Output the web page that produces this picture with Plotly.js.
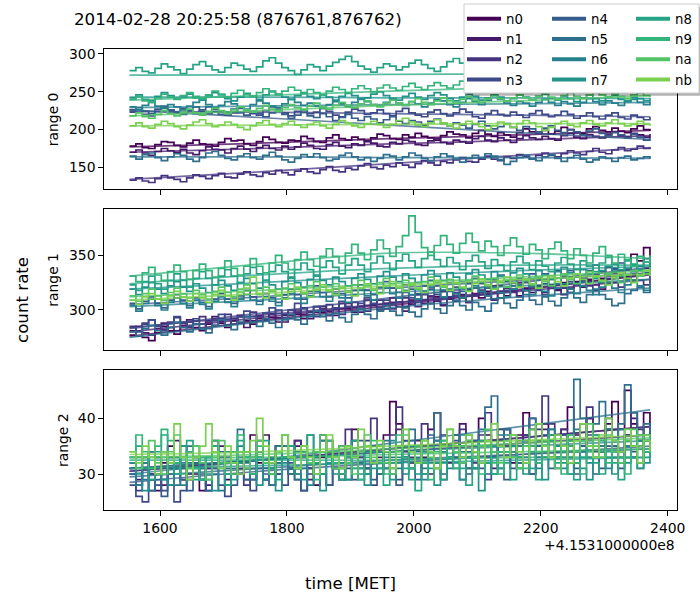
<!DOCTYPE html>
<html><head><meta charset="utf-8">
<script src="https://cdn.plot.ly/plotly-3.0.1.min.js"></script>
<style>html,body{margin:0;padding:0;background:#fff}#chart{width:700px;height:600px}</style>
</head><body><div id="chart"></div>
<script>
// ---------- data ----------
const detectors = ['n0','n1','n2','n3','n4','n5','n6','n7','n8','n9','na','nb'];
const colors = ['#440154','#46186a','#453380','#3e4989','#365c8c','#2e6f8e','#27808e','#22928b','#24a485','#33b47b','#53c368','#7bd050'];
const titleText = '2014-02-28 20:25:58 (876761,876762)';
const offsetText = '+4.1531000000e8';
const rangeLabels = ['range 0','range 1','range 2'];
const xTicks = [1600,1800,2000,2200,2400];
const yTicks0 = [150,200,250,300];
const yTicks1 = [300,350];
const yTicks2 = [30,40];
// time bins (seconds relative to 4.1531e8 MET), 10 s bins
const binStart = 1552, binWidth = 10, nBins = 83;
const times = []; for (let i = 0; i < nBins; i++) times.push(binStart + binWidth * i);
const fitTimes = [1552,1757,1962,2167,2372];

// range 0
const r0_n0 = [178,181,176,175,180,184,183,179,177,182,186,181,180,178,183,188,185,186,181,179,184,190,187,183,182,186,185,191,188,184,183,189,193,188,186,190,187,184,189,194,192,188,187,193,190,195,191,189,186,192,197,194,193,189,195,199,194,191,196,193,190,196,201,197,195,199,194,198,203,200,196,195,201,204,199,197,202,198,196,201,205,200,198];
const r0_n1 = [170,173,169,166,171,175,172,170,174,169,167,172,177,174,173,169,175,178,174,171,176,179,175,173,178,174,177,182,179,175,174,180,183,178,176,181,179,185,182,178,177,183,181,186,184,180,179,185,188,183,181,186,184,182,188,191,186,184,189,186,183,188,192,189,187,191,188,186,192,195,190,188,193,191,189,194,197,192,190,195,193,190,194];
const r0_n2 = [133,136,132,130,135,139,136,134,131,136,140,138,135,139,142,137,136,141,144,140,138,143,141,146,143,140,145,148,144,142,147,151,146,144,149,147,152,155,150,148,153,151,156,153,150,155,159,156,153,158,156,160,163,158,157,161,165,161,159,164,162,167,164,161,166,169,166,164,168,172,169,167,171,175,170,168,173,176,172,174,178,175,177];
const r0_n3 = [223,226,220,218,224,229,225,222,220,226,230,224,221,227,223,219,222,228,226,221,219,225,230,227,222,218,224,226,221,223,228,224,219,217,223,227,225,220,222,226,221,218,224,228,222,219,217,223,226,221,218,222,227,223,217,215,221,225,220,218,223,219,216,221,225,220,217,219,224,220,215,218,222,217,214,219,222,216,214,219,216,213,217];
const r0_n4 = [226,229,224,221,227,231,226,223,228,225,221,226,230,224,220,223,227,222,219,224,221,217,222,226,220,215,219,223,218,216,221,217,212,216,220,215,212,217,214,209,213,217,211,208,212,210,206,211,214,208,205,209,206,202,207,211,205,201,204,208,203,199,204,201,197,202,205,199,196,200,197,193,198,201,195,192,196,193,189,194,190,186,189];
const r0_n5 = [165,161,167,169,163,159,164,168,166,161,158,163,169,171,166,162,160,165,168,163,161,166,170,165,160,157,162,167,164,168,163,159,161,166,169,164,160,163,158,162,167,165,160,164,169,166,162,159,164,168,165,161,157,162,166,163,168,165,160,154,158,163,166,161,159,164,167,162,158,163,166,161,157,160,164,162,158,163,165,160,162,164,161];
const r0_n6 = [230,226,232,236,231,228,233,230,226,231,236,239,233,229,232,237,234,229,227,233,238,235,231,229,234,240,236,232,235,231,228,233,237,234,230,236,241,237,233,231,236,240,235,232,237,234,230,235,240,238,233,230,236,241,237,233,239,245,240,235,232,237,235,231,236,240,236,232,237,234,231,236,241,237,233,238,235,232,237,240,236,233,237];
const r0_n7 = [242,246,240,238,244,249,245,241,243,247,242,239,245,249,246,241,238,243,248,244,240,246,251,247,243,240,245,249,244,241,246,243,239,244,248,245,240,242,247,250,245,241,239,244,248,243,240,245,249,246,241,238,243,247,244,239,242,246,243,238,241,246,243,239,244,247,242,239,244,241,237,242,246,241,238,243,245,240,238,243,241,238,242];
const r0_n8 = [278,282,277,275,281,287,283,279,274,280,286,290,284,279,276,282,288,285,280,277,283,291,295,288,282,278,273,279,286,283,278,284,289,293,297,290,284,280,276,282,287,284,279,283,288,292,286,281,277,283,290,294,288,283,280,285,291,287,282,278,284,290,286,281,285,292,288,283,279,285,290,286,282,278,284,289,285,281,286,290,285,282,284];
const r0_n9 = [240,244,238,236,242,247,243,240,245,249,244,241,246,251,247,243,248,252,247,244,249,254,250,246,251,256,252,248,253,249,246,251,256,253,249,254,258,254,250,255,259,255,252,257,261,256,253,258,262,258,255,259,264,260,256,261,265,261,257,262,266,262,258,263,267,263,260,265,269,264,261,266,270,266,262,267,264,260,265,268,264,261,263];
const r0_na = [218,222,217,215,220,225,221,218,223,227,222,219,224,228,225,221,226,230,226,223,228,232,227,224,229,233,229,226,231,235,230,227,232,236,232,229,234,238,233,230,235,239,235,232,237,241,236,233,238,242,238,235,240,244,239,236,241,245,241,238,242,246,242,239,244,248,243,240,245,249,244,241,246,250,246,243,247,244,241,246,249,245,243];
const r0_nb = [205,209,204,202,207,211,208,204,201,206,210,213,208,204,206,210,207,203,200,205,209,212,207,204,208,211,206,203,207,210,205,202,207,212,209,205,203,208,211,207,203,207,212,215,210,206,204,209,213,209,205,202,207,211,208,204,200,205,210,207,203,208,212,209,204,199,203,208,211,206,204,209,212,207,205,209,213,208,205,207,211,207,205];

// range 1
const r1_n0 = [277,281,275,272,279,285,281,278,284,289,284,281,287,292,288,284,290,295,290,287,292,297,293,289,295,300,296,292,298,303,298,295,301,306,301,298,303,309,304,300,306,311,307,303,309,314,309,306,312,317,312,308,314,319,315,311,317,322,317,313,319,325,320,316,322,327,323,319,325,330,326,322,328,333,329,339,334,331,337,351,345,357,341];
const r1_n1 = [281,285,279,277,283,288,284,281,286,291,287,283,289,294,290,286,292,288,284,290,295,291,297,293,289,295,300,296,292,298,303,299,295,301,306,302,298,304,309,305,301,307,303,299,305,310,306,312,308,304,310,315,311,307,313,318,314,310,316,321,317,313,319,324,320,316,322,318,314,320,325,321,327,323,319,325,330,336,331,327,333,338,334];
const r1_n2 = [285,281,288,291,286,282,289,293,288,284,290,294,290,286,292,296,292,288,294,298,294,290,296,300,296,292,298,302,298,294,301,305,300,296,303,307,303,299,305,309,305,301,307,311,307,303,309,313,309,305,312,316,311,307,314,318,313,309,316,320,316,312,318,322,318,314,320,324,320,316,323,327,322,318,325,329,325,321,328,332,327,323,331];
const r1_n3 = [284,280,287,291,285,281,288,294,289,285,292,287,283,290,296,291,287,294,299,294,290,297,302,297,293,300,306,301,296,303,299,295,302,308,303,299,306,311,306,302,309,305,311,316,311,307,314,319,314,310,317,313,320,325,320,316,323,328,322,318,325,321,328,333,328,324,331,336,330,326,333,329,336,341,335,331,338,343,337,333,340,347,339];
const r1_n4 = [306,301,308,312,306,302,309,314,309,304,311,307,303,310,315,310,306,313,318,312,308,315,311,307,314,319,314,310,317,322,316,312,319,315,311,318,323,318,314,321,326,320,316,323,319,315,322,327,322,318,325,321,317,324,329,324,320,327,332,326,322,329,325,321,328,333,328,324,331,336,330,326,333,329,325,332,337,332,328,335,340,334,331];
const r1_n5 = [280,276,283,286,281,277,284,289,284,280,287,283,279,286,291,286,282,289,294,289,285,292,288,284,291,296,291,287,294,299,294,290,297,293,289,296,301,296,292,299,304,299,295,302,298,294,301,306,301,297,304,309,304,300,307,303,299,306,311,306,302,309,314,309,305,312,308,304,311,316,311,307,314,319,314,310,304,306,315,318,321,316,322];
const r1_n6 = [304,299,306,310,304,300,307,311,306,302,309,305,301,308,312,307,303,310,314,309,305,312,308,304,311,315,310,306,313,317,312,308,315,311,307,314,318,313,309,316,320,315,311,318,314,310,317,321,316,312,319,315,311,318,322,317,313,320,316,312,319,323,318,314,321,317,313,320,324,319,315,322,318,314,321,325,320,316,323,327,322,318,325];
const r1_n7 = [319,314,321,325,319,315,322,326,321,317,324,320,316,323,327,322,318,325,329,324,320,327,323,319,326,330,325,321,328,332,327,323,330,326,322,329,333,328,324,331,335,330,326,333,329,325,332,336,331,327,334,330,326,333,337,332,328,335,331,327,334,338,333,329,336,332,328,335,339,334,330,337,333,329,336,340,335,331,338,342,337,333,340];
const r1_n8 = [323,318,326,331,324,319,327,333,327,321,329,335,329,323,331,337,331,325,333,339,333,327,335,341,335,329,337,343,337,331,339,345,339,333,341,347,341,335,343,349,343,337,345,351,345,339,347,353,346,340,348,343,337,345,350,344,338,346,341,336,344,349,343,337,345,340,335,343,348,342,337,345,340,335,343,348,342,337,345,341,336,344,340];
const r1_n9 = [331,326,334,339,332,327,335,341,335,328,336,342,336,330,338,345,338,332,340,347,340,334,343,350,343,337,346,353,346,340,349,356,349,343,352,360,352,346,355,364,356,349,358,368,386,371,357,350,359,368,360,352,361,370,362,354,363,358,350,359,366,358,351,360,355,347,356,362,354,347,356,350,343,352,358,350,343,351,346,340,349,344,350];
const r1_na = [313,308,315,319,313,309,316,320,315,311,318,314,310,317,321,316,312,319,323,318,314,321,317,313,320,324,319,315,322,326,321,317,324,320,316,323,327,322,318,325,329,324,320,327,323,319,326,330,325,321,328,324,320,327,331,326,322,329,325,321,328,332,327,323,330,326,322,329,333,328,324,331,335,330,326,333,329,325,332,336,331,336,339];
const r1_nb = [309,305,312,315,310,306,313,317,312,308,315,311,307,314,318,313,309,316,320,330,315,311,318,314,310,317,321,316,312,319,323,318,314,321,317,313,320,324,319,315,322,326,321,317,324,320,316,323,327,322,318,325,321,317,324,328,323,319,326,330,325,321,328,324,320,327,331,326,322,329,333,328,324,331,327,323,330,334,329,325,332,336,331];

// range 2
const r2_n0 = [31,28,33,30,27,32,35,31,29,34,30,27,31,36,33,29,32,30,34,37,32,29,31,35,33,30,36,34,31,28,33,36,32,30,35,38,33,31,34,30,37,43,39,34,32,36,33,38,41,35,33,37,35,31,36,40,37,34,38,35,32,37,41,38,35,39,36,33,38,42,37,35,40,37,34,39,43,38,45,39,36,41,38];
const r2_n1 = [32,29,31,34,30,28,33,36,31,29,33,31,28,32,35,33,30,34,31,29,34,37,32,30,33,31,35,33,29,32,36,34,31,29,33,36,32,30,35,33,31,34,38,33,31,35,32,30,36,34,32,35,39,34,31,36,33,31,35,38,34,32,37,35,33,38,36,33,37,35,32,36,40,37,34,38,35,33,37,40,36,34,37];
const r2_n2 = [30,27,32,29,33,31,28,32,35,30,33,29,31,35,32,30,34,31,28,33,36,32,30,35,33,31,36,34,30,33,37,34,31,35,38,33,31,36,40,34,32,37,42,36,33,35,39,34,32,37,35,33,38,36,32,37,41,36,34,38,35,33,37,40,38,44,39,35,38,36,34,39,42,37,35,40,38,34,37,41,38,36,39];
const r2_n3 = [28,26,25,30,28,27,31,25,27,30,32,29,27,31,28,26,30,33,29,27,31,29,33,30,28,32,30,27,31,34,30,28,32,35,31,29,33,31,28,32,34,31,29,33,36,32,30,34,31,29,33,36,32,30,34,31,29,33,36,34,31,35,33,30,34,37,33,31,35,32,30,34,37,34,31,35,33,31,36,34,32,36,34];
const r2_n4 = [30,28,31,27,29,26,31,33,29,27,32,30,27,31,34,30,28,32,29,31,34,30,28,32,35,31,29,27,32,34,30,28,33,31,29,33,36,31,29,32,34,30,28,33,31,29,34,37,32,30,33,31,29,34,36,32,30,33,31,29,34,36,32,30,35,33,31,34,37,33,31,35,33,30,34,38,34,32,35,33,31,36,34];
const r2_n5 = [30,33,29,27,31,34,30,28,32,35,31,29,33,30,27,31,34,38,32,29,33,31,28,32,35,31,29,33,37,33,30,34,31,29,33,36,32,30,34,31,36,33,31,35,38,34,31,35,41,36,33,37,34,31,35,38,42,44,37,38,35,32,36,40,36,34,38,35,33,37,47,40,36,39,43,38,35,39,46,41,35,39,37];
const r2_n6 = [31,28,32,34,30,29,33,31,28,32,35,31,29,34,32,28,31,35,33,30,33,29,31,35,32,30,34,31,28,33,36,33,30,32,35,31,29,34,32,30,33,36,32,30,35,33,29,32,36,34,31,34,37,33,31,35,32,30,34,37,33,31,36,34,31,35,38,33,31,36,38,34,32,37,35,31,34,38,35,33,37,34,36];
const r2_n7 = [32,30,27,31,33,29,28,32,35,31,29,33,30,27,31,34,29,32,34,30,28,32,31,27,33,35,30,29,32,30,27,32,34,31,29,33,30,28,31,34,31,29,33,35,31,30,34,31,28,32,35,32,29,33,31,27,32,35,31,33,35,31,30,34,32,29,33,35,32,30,34,31,29,33,36,33,30,34,32,33,36,32,34];
const r2_n8 = [33,35,31,29,34,37,32,30,33,36,31,29,33,35,32,28,32,36,33,30,34,36,31,29,33,35,31,34,37,32,30,34,32,29,33,36,31,30,34,31,28,32,35,31,29,27,30,34,32,29,33,35,31,28,33,36,32,30,34,32,29,33,35,31,29,33,36,32,34,30,29,33,35,32,30,34,32,29,33,35,31,34,33];
const r2_n9 = [33,37,34,31,35,38,36,32,30,34,31,29,33,36,32,30,34,37,33,30,35,32,30,34,37,33,31,35,32,29,34,36,32,30,34,31,29,33,36,32,30,34,37,33,31,35,32,29,34,36,33,31,35,37,33,30,35,32,30,34,37,33,31,35,32,34,37,33,30,35,32,30,34,37,34,32,36,33,30,35,37,34,36];
const r2_na = [34,31,33,36,32,30,34,37,33,31,35,32,29,33,36,32,30,34,31,33,36,32,30,34,37,33,31,35,32,34,37,33,31,35,32,30,34,37,33,35,32,30,34,37,34,32,36,33,31,35,38,34,32,36,33,35,38,34,32,36,33,31,35,38,34,36,33,31,35,37,34,36,39,35,33,37,34,32,36,38,35,37,36];
const r2_nb = [34,32,35,33,30,34,32,39,33,29,33,35,39,34,31,35,32,30,34,36,40,35,32,34,37,33,31,35,33,30,34,37,33,31,35,33,38,35,32,36,34,31,35,38,34,32,36,34,31,35,38,35,33,37,34,32,36,39,35,33,37,34,32,36,39,35,33,37,35,32,36,39,35,33,37,40,36,34,38,35,32,36,34];

// background fits (values at fitTimes)
const f0_n0 = [177,182,188,193,199], f0_n1 = [170,175,181,186,192], f0_n2 = [134,144,155,166,176], f0_n3 = [224,223,221,219,217];
const f0_n4 = [226,216,206,196,187], f0_n5 = [164,164,163,163,162], f0_n6 = [229,231,233,234,236], f0_n7 = [243,243,242,242,241];
const f0_n8 = [272,272.5,273,273.5,274], f0_n9 = [239,245,251,256,262], f0_na = [218,225,232,238,245], f0_nb = [205,206,207,208,208];
const f1_n0 = [276,290,304,318,333], f1_n1 = [280,293,306,319,332], f1_n2 = [284,295,306,317,328], f1_n3 = [283,297,311,325,339];
const f1_n4 = [305,312,320,327,334], f1_n5 = [275,289,302,312,320], f1_n6 = [303,309,316,322,328], f1_n7 = [319,325,331,336,340];
const f1_n8 = [324,332,338,341,341], f1_n9 = [331,342,352,352,347], f1_na = [312,318,324,330,336], f1_nb = [309,315,322,328,333];
const f2_n0 = [30.5,32.5,34.5,36.5,38.5], f2_n1 = [31,32.5,34,35.5,37], f2_n2 = [30.5,32.5,34.5,36.5,38.5], f2_n3 = [28.5,30.5,32,33.5,35];
const f2_n4 = [29.5,31,32.5,33.5,34.5], f2_n5 = [30,32.5,35.5,38.5,41.5], f2_n6 = [31,32.5,34,35,36], f2_n7 = [31,31.5,32,32.5,33];
const f2_n8 = [32.5,32.5,32.5,33,33], f2_n9 = [33,33,33.5,34,34.5], f2_na = [33,33.5,34.5,35.5,36.5], f2_nb = [33.5,34,35,36,37];

// ---------- build ----------
const panels = [
  {xa:'x',  ya:'y',  data:[r0_n0,r0_n1,r0_n2,r0_n3,r0_n4,r0_n5,r0_n6,r0_n7,r0_n8,r0_n9,r0_na,r0_nb], fits:[f0_n0,f0_n1,f0_n2,f0_n3,f0_n4,f0_n5,f0_n6,f0_n7,f0_n8,f0_n9,f0_na,f0_nb]},
  {xa:'x2', ya:'y2', data:[r1_n0,r1_n1,r1_n2,r1_n3,r1_n4,r1_n5,r1_n6,r1_n7,r1_n8,r1_n9,r1_na,r1_nb], fits:[f1_n0,f1_n1,f1_n2,f1_n3,f1_n4,f1_n5,f1_n6,f1_n7,f1_n8,f1_n9,f1_na,f1_nb]},
  {xa:'x3', ya:'y3', data:[r2_n0,r2_n1,r2_n2,r2_n3,r2_n4,r2_n5,r2_n6,r2_n7,r2_n8,r2_n9,r2_na,r2_nb], fits:[f2_n0,f2_n1,f2_n2,f2_n3,f2_n4,f2_n5,f2_n6,f2_n7,f2_n8,f2_n9,f2_na,f2_nb]}
];
const traces = [];
panels.forEach(p => {
  detectors.forEach((d, k) => {
    traces.push({x: times, y: p.data[k], xaxis: p.xa, yaxis: p.ya, type: 'scatter', mode: 'lines',
      line: {shape: 'hv', color: colors[k], width: 1.7}, showlegend: false, hoverinfo: 'skip'});
    traces.push({x: fitTimes, y: p.fits[k], xaxis: p.xa, yaxis: p.ya, type: 'scatter', mode: 'lines',
      line: {shape: 'spline', color: colors[k], width: 1.7}, opacity: 0.75, showlegend: false, hoverinfo: 'skip'});
  });
});
const legendIds = ['legend','legend2','legend3'];
detectors.forEach((d, k) => {
  traces.push({x: [null], y: [null], xaxis: 'x', yaxis: 'y', type: 'scatter', mode: 'lines', name: d,
    line: {color: colors[k], width: 4}, legend: legendIds[Math.floor(k / 4)], showlegend: true});
});

const FONT = 'DejaVu Sans, Liberation Sans, sans-serif';
const W = 700, H = 600;
const px = v => v / W, py = v => 1 - v / H;
const xDom = [px(104.3), px(677.3)];
const xRange = [1512.2, 2415.1];
function xax(showLabels) {
  return {domain: xDom, range: xRange, tickvals: xTicks, ticktext: xTicks.map(String), showticklabels: showLabels,
    ticks: 'outside', ticklen: 5, tickwidth: 1, tickcolor: '#000', showline: true, mirror: true, linecolor: '#000', linewidth: 1,
    showgrid: false, zeroline: false, automargin: false, tickfont: {family: FONT, size: 13.9, color: '#000'}};
}
function yax(dom, range, tv, anchor) {
  return {domain: dom, range: range, tickvals: tv, ticktext: tv.map(String), anchor: anchor,
    ticks: 'outside', ticklen: 5, tickwidth: 1, tickcolor: '#000', showline: true, mirror: true, linecolor: '#000', linewidth: 1,
    showgrid: false, zeroline: false, automargin: false, tickfont: {family: FONT, size: 13.9, color: '#000'}};
}
function legendDef(xPix) {
  return {x: px(xPix), y: py(3.5), xanchor: 'left', yanchor: 'top', bgcolor: 'rgba(0,0,0,0)', borderwidth: 0,
    font: {family: FONT, size: 13.3, color: '#000'}, itemwidth: 34, tracegroupgap: 0, orientation: 'v'};
}
const ann = (text, x, y, opts) => Object.assign({text: text, x: x, y: y, xref: 'paper', yref: 'paper', showarrow: false,
  font: {family: FONT, size: 13.9, color: '#000'}, xanchor: 'center', yanchor: 'middle'}, opts || {});

const layout = {
  width: W, height: H, margin: {l: 0, r: 0, t: 0, b: 0}, paper_bgcolor: '#fff', plot_bgcolor: '#fff', showlegend: true,
  xaxis: Object.assign(xax(false), {anchor: 'y'}),
  xaxis2: Object.assign(xax(false), {anchor: 'y2'}),
  xaxis3: Object.assign(xax(true), {anchor: 'y3'}),
  yaxis: yax([py(189), py(49.3)], [121.4, 306.2], yTicks0, 'x'),
  yaxis2: yax([py(350), py(209.3)], [263.4, 392.1], yTicks1, 'x2'),
  yaxis3: yax([py(510), py(370)], [23.54, 48.67], yTicks2, 'x3'),
  legend: legendDef(462), legend2: legendDef(547), legend3: legendDef(631),
  shapes: [
    {type: 'rect', xref: 'paper', yref: 'paper', x0: px(466.8), x1: px(701.8), y0: py(95.8), y1: py(6.8), fillcolor: 'rgba(0,0,0,0.3)', line: {width: 0}, layer: 'above'},
    {type: 'rect', xref: 'paper', yref: 'paper', x0: px(464), x1: px(699), y0: py(93), y1: py(4), fillcolor: '#fff', line: {color: '#cccccc', width: 1}, layer: 'above'}
  ],
  annotations: [
    ann(titleText, px(72), py(20), {xanchor: 'left', font: {family: FONT, size: 16.67, color: '#000'}}),
    ann('count rate', px(22), 0.5, {textangle: -90, font: {family: FONT, size: 16.67, color: '#000'}}),
    ann('time [MET]', 0.5, py(583), {font: {family: FONT, size: 16.67, color: '#000'}}),
    ann(rangeLabels[0], px(53), py(119.2), {textangle: -90}),
    ann(rangeLabels[1], px(53), py(279.7), {textangle: -90}),
    ann(rangeLabels[2], px(63), py(440), {textangle: -90}),
    ann(offsetText, px(677.3), py(545), {xanchor: 'right'})
  ]
};
Plotly.newPlot('chart', traces, layout, {displayModeBar: false, staticPlot: true});
</script></body></html>
